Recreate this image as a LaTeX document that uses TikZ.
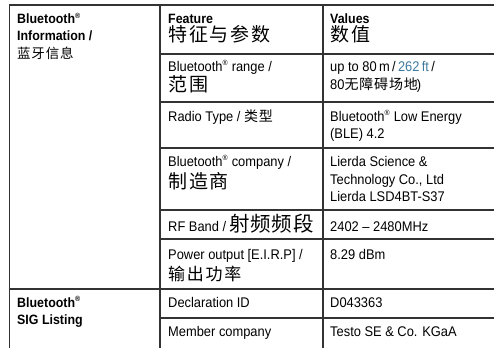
\documentclass[tikz,border=0pt]{standalone}
\usepackage{fontspec}
\setmainfont{Liberation Sans}[FakeStretch=0.92]
\newfontfamily\cjk{Noto Sans CJK SC}[LetterSpace=10]
\newfontfamily\cjkband{Noto Sans CJK SC}[LetterSpace=3]
\newfontfamily\cjkn{Noto Sans CJK SC}[LetterSpace=6]
\usepackage{xcolor}
\definecolor{ftblue}{RGB}{62,122,160}
\tikzset{
  tabline/.style={line width=1.8pt, black!80},
  celltext/.style={anchor=base west, inner sep=0pt, font=\fontsize{14}{16}\selectfont},
  headtext/.style={anchor=base west, inner sep=0pt, font=\fontsize{13.5}{16}\bfseries},
}
\newcommand{\reg}{\textsuperscript{\fontsize{7.5}{7.5}\selectfont ®}}
\newcommand{\cjkbig}[1]{{\cjk\fontsize{19}{21}\selectfont #1}}
\newcommand{\cjksmall}[1]{{\cjkn\fontsize{14}{16}\selectfont #1}}

\begin{document}
\begin{tikzpicture}[x=1pt,y=-1pt]
	\useasboundingbox (0,0) rectangle (494,348);
	
	% frame
	\draw[tabline] (9.5,5) -- (494,5);
	\draw[tabline] (9.5,4.1) -- (9.5,348);
	\draw[tabline] (160,5) -- (160,348);
	\draw[tabline] (323,5) -- (323,348);
	
	% rows
	\draw[tabline] (160,54) -- (494,54);
	\draw[tabline] (160,102) -- (494,102);
	\draw[tabline] (160,148) -- (494,148);
	\draw[tabline] (160,210) -- (494,210);
	\draw[tabline] (160,239) -- (494,239);
	\draw[tabline] (9.5,289) -- (494,289);
	\draw[tabline] (160,318) -- (494,318);
	
	% first column
	\node[headtext] (infoA) at (17,23.5) {Bluetooth\reg};
	\node[headtext] (infoB) at (17,40) {Information /};
	\node[celltext] (infoC) at (17,58.5) {{\cjkn\fontsize{13.5}{15}\selectfont 蓝牙信息}};
	\node[headtext] (sigA) at (17,307) {Bluetooth\reg};
	\node[headtext] (sigB) at (17,324) {SIG Listing};
	
	% header
	\node[headtext] (featA) at (168,23.5) {Feature};
	\node[celltext] (featB) at (168,41.5) {\cjkbig{特征与参数}};
	\node[headtext] (valA) at (330,23.5) {Values};
	\node[celltext] (valB) at (330,41.5) {\cjkbig{数值}};
	
	% range
	\node[celltext] (rangeA) at (168,71) {Bluetooth\reg{} range /};
	\node[celltext] (rangeB) at (168,91) {\cjkbig{范围}};
	\node[celltext] (rangeC) at (330,71) {up to 80\,m\,/\,\textcolor{ftblue}{262\,ft}\,/};
	\node[celltext] (rangeD) at (330,89) {80\cjksmall{无障碍场地}\kern-1pt)};
	
	% radio type
	\node[celltext] (radioA) at (168,121) {Radio Type / \cjksmall{类型}};
	\node[celltext] (radioB) at (330,121) {Bluetooth\reg{} Low Energy};
	\node[celltext] (radioC) at (330,138) {(BLE) 4.2};
	
	% company
	\node[celltext] (compA) at (168,166) {Bluetooth\reg{} company /};
	\node[celltext] (compB) at (168,188) {\cjkbig{制造商}};
	\node[celltext] (compC) at (330,166) {Lierda Science \&};
	\node[celltext] (compD) at (330,184) {Technology Co., Ltd};
	\node[celltext] (compE) at (330,201) {Lierda LSD4BT-S37};
	
	% band
	\node[celltext] (bandA) at (168,231) {RF Band / {\cjkband\fontsize{20.5}{22}\selectfont 射频频段}};
	\node[celltext] (bandB) at (330,231) {2402 – 2480MHz};
	
	% power
	\node[celltext] (powA) at (168,259) {Power output [E.I.R.P] /};
	\node[celltext] (powB) at (168,280) {{\cjk\fontsize{17}{19}\selectfont 输出功率}};
	\node[celltext] (powC) at (330,259) {8.29 dBm};
	
	% listing
	\node[celltext] (declA) at (168,307) {Declaration ID};
	\node[celltext] (declB) at (330,307) {D043363};
	\node[celltext] (membA) at (168,336) {Member company};
	\node[celltext] (membB) at (330,336) {Testo SE \& Co. KGaA};
\end{tikzpicture}
\end{document}
